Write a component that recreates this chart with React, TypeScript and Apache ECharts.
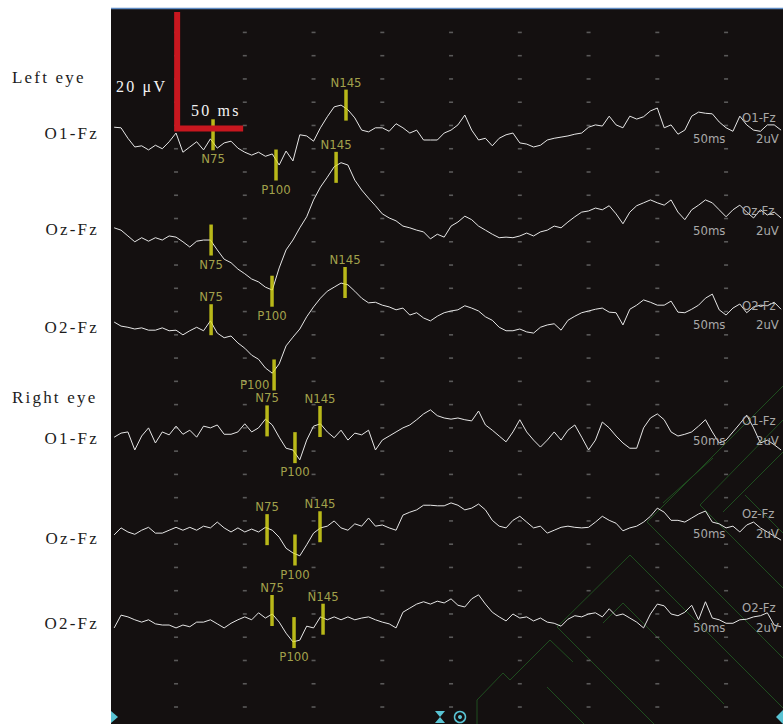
import React, { useEffect, useRef } from "react";
import * as echarts from "echarts";

// ---------- data (time in ms, amplitude in µV) ----------
const T_START = -45;
const T_STEP = 5;

const EYES = ["Left eye", "Right eye"];
const CHANNELS = ["O1-Fz", "Oz-Fz", "O2-Fz", "O1-Fz", "Oz-Fz", "O2-Fz"];

const LEFT_O1 = [
  2.7, 2.6, 0.8, -0.7, -0.5, -1.2, -0.4, -1.0, 0.2, 1.7,
  -1.6, -0.7, 0.2, -1.2, 0.7, -0.9, 0.0, 0.3, -0.9, -1.6,
  -2.1, -1.6, -2.3, -1.9, -3.8, -1.4, -3.1, 1.4, 1.2, 0.3,
  2.6, 4.5, 6.2, 6.5, 5.7, 4.3, 2.2, 1.9, 2.6, 2.6,
  2.0, 3.3, 2.6, 1.7, 2.2, 0.5, 0.5, 0.5, 1.7, 2.2,
  3.1, 4.8, 2.2, 0.5, 0.8, -0.5, 0.8, 1.4, 1.7, 0.0,
  -0.2, -0.7, -0.4, 0.5, 0.8, 1.0, 1.2, 1.5, 1.7, 2.7,
  3.1, 2.9, 4.6, 3.1, 2.6, 4.6, 4.1, 4.5, 5.5, 6.0,
  2.6, 3.1, 1.5, 2.2, 4.6, 5.3, 5.1, 5.0, 3.6, 2.6,
  2.0, 4.6, 3.1, 2.2, 2.0, 3.1, 3.1, 2.2,
];
const LEFT_OZ = [
  1.4, 1.0, 0.0, -1.0, -0.3, -0.9, -0.3, -0.7, 0.0, -0.2,
  -1.0, -1.9, -0.9, -0.7, -0.7, -2.4, -4.0, -4.6, -5.7, -6.5,
  -7.4, -7.9, -8.8, -9.3, -5.5, -2.4, -0.7, 1.4, 3.3, 6.2,
  8.4, 10.1, 11.9, 12.6, 12.2, 9.6, 7.9, 6.5, 5.2, 3.8,
  3.1, 2.6, 1.7, 1.4, 1.0, 0.7, -0.5, 0.3, -0.2, 1.7,
  2.4, 3.4, 2.8, 1.7, 1.0, 0.3, -0.3, -0.2, -0.3, 0.0,
  0.5, 0.0, 0.7, 1.0, 1.7, 1.4, 2.4, 3.3, 4.1, 4.3,
  4.8, 4.5, 5.2, 3.8, 2.1, 4.1, 5.2, 5.7, 6.2, 5.7,
  5.3, 6.2, 4.1, 2.8, 4.5, 5.3, 6.2, 5.7, 4.5, 3.3,
  4.5, 5.3, 4.1, 3.1, 4.5, 3.6, 4.1, 3.1,
];
const LEFT_O2 = [
  1.2, 0.5, 0.3, 0.0, 0.2, -0.2, -0.2, 0.2, -0.3, -0.2,
  -1.0, -0.3, 0.3, -0.3, 1.4, -0.7, -1.5, -1.2, -2.4, -3.3,
  -4.5, -5.2, -6.7, -7.6, -6.0, -2.9, -1.4, 0.0, 2.1, 3.8,
  5.3, 6.5, 7.2, 7.9, 7.6, 6.5, 5.3, 4.5, 4.6, 4.1,
  3.8, 3.3, 3.6, 2.4, 2.8, 1.9, 1.4, 2.2, 2.8, 3.1,
  3.3, 4.0, 3.6, 3.1, 2.1, 1.5, 0.3, -0.3, -0.3, 0.0,
  -0.5, -0.7, 0.3, 0.7, 0.9, -0.2, 1.5, 2.2, 2.8, 3.1,
  3.4, 3.6, 2.9, 2.8, 0.7, 3.4, 4.1, 5.0, 4.6, 4.1,
  4.1, 4.8, 2.9, 2.8, 3.4, 4.1, 5.3, 6.0, 3.3, 2.4,
  3.6, 4.3, 2.8, 3.8, 4.1, 4.0, 4.6, 3.4,
];
const RIGHT_O1 = [
  -0.6, 0.1, 0.3, -2.8, -0.4, 1.0, -1.6, 0.3, -0.2, 1.3,
  -0.1, 0.6, -0.6, 1.3, 1.0, 1.5, -0.1, -0.1, 0.3, 1.7,
  0.3, 1.0, 2.5, 1.5, -0.6, -2.5, -2.8, -4.5, -1.1, 1.3,
  1.7, 0.3, -0.7, 0.6, -1.1, 0.1, -0.2, 0.6, -2.8, -1.1,
  -0.4, 0.3, 1.0, 1.5, 2.4, 3.4, 4.1, 3.1, 2.7, 2.5,
  2.7, 2.4, 2.2, 3.9, 1.5, 0.6, -0.4, -1.4, 0.3, 2.4,
  0.3, -1.1, -2.3, -1.1, 0.3, -1.1, 0.6, 1.5, -0.6, -2.8,
  -1.1, 2.0, 1.0, -0.4, -1.6, -2.5, -2.5, 1.0, 2.7, 3.4,
  2.4, 0.3, -0.4, -0.1, 0.3, 1.3, 2.4, 0.3, -1.6, -1.1,
  0.3, 1.7, 3.2, 1.0, -1.6, -1.1, -1.9, -2.8,
];
const RIGHT_OZ = [
  -0.4, 0.8, 0.1, -0.3, 0.4, 0.9, -0.1, -0.1, 0.4, 0.9,
  0.4, 0.9, 0.4, 1.1, 0.8, 1.8, 0.8, 0.1, 0.8, 0.1,
  0.6, 0.1, 0.9, 0.4, -0.8, -2.7, -3.5, -4.0, -2.1, -0.1,
  0.8, 1.1, 2.0, 0.8, 0.4, 1.5, 1.1, 2.5, 1.1, 1.3,
  0.8, 0.4, 3.0, 3.5, 3.9, 4.7, 4.7, 4.6, 4.6, 5.1,
  4.7, 3.9, 4.2, 4.9, 3.9, 2.1, 1.1, 0.8, 2.1, 2.8,
  1.8, 0.8, 1.1, -0.1, 0.4, 0.9, 1.1, 0.9, 0.8, 0.9,
  1.8, 2.8, 2.1, 1.6, 0.3, 0.8, 1.1, 1.8, 2.8, 4.2,
  3.5, 2.1, 2.1, 1.8, 2.5, 3.2, 3.7, 1.8, 1.5, 0.8,
  1.1, 0.1, 1.3, 1.8, 0.8, 0.1, -0.6, -1.3,
];
const RIGHT_O2 = [
  -1.4, 0.8, 0.5, 0.0, -0.4, 0.0, -0.7, -0.9, -0.9, -1.4,
  -0.9, -1.2, -0.4, -0.4, 0.0, -0.7, -1.4, -0.6, 0.0, 0.5,
  0.0, 1.2, 0.3, 1.0, -0.4, -2.3, -3.8, -3.5, -1.1, -1.4,
  0.5, 0.0, 0.5, 0.0, 0.5, 0.0, 0.3, 0.5, 0.0, -0.4,
  -0.7, -1.4, 1.3, 2.0, 2.7, 3.1, 2.7, 3.2, 2.9, 3.6,
  2.5, 2.2, 3.6, 4.3, 2.7, 1.3, 0.5, -0.2, 1.0, 0.3,
  0.5, -0.2, 0.3, -0.4, -0.6, -1.1, 0.1, 0.7, 0.5, 1.0,
  1.2, 0.5, 1.9, 0.7, 1.0, 0.3, -0.4, -1.4, 1.0, 2.7,
  2.4, 1.0, 0.7, 1.3, 2.5, 0.0, 3.1, 0.3, 0.0, -0.6,
  -0.6, 0.0, 0.1, 0.5, 0.7, 1.2, -0.9, -1.2,
];
const TRACES = [LEFT_O1, LEFT_OZ, LEFT_O2, RIGHT_O1, RIGHT_OZ, RIGHT_O2];

// VEP peaks per trace: names, latencies (ms), amplitudes (µV)
const PEAK_NAMES = ["N75", "P100", "N145"];
const PEAK_LATENCY = [
  [26.9, 72.7, 123.6],
  [25.5, 69.8, 116.4],
  [25.5, 71.3, 122.9],
  [66.2, 86.5, 104.7],
  [66.2, 86.5, 104.7],
  [69.8, 85.8, 106.9],
];
const PEAK_AMPLITUDE = [
  [1.4, -3.8, 6.5],
  [-0.7, -9.5, 11.8],
  [1.6, -7.9, 8.0],
  [2.2, -2.4, 2.1],
  [0.5, -3.0, 1.0],
  [1.6, -2.2, 0.1],
];

// calibration bar
const SCALE_UV = 20;
const SCALE_MS = 50;
const SCALE_LABELS = ["20 μV", "50 ms"];
const DIV_LABELS = ["50ms", "2uV"];

// ---------- layout (not data) ----------
const OFFSETS = [97, 81, 65, 47, 30, 15]; // baseline of each trace on the stacked axis
// label side of each peak marker: t = above, b = below, l = left (lowered)
const LABEL_SIDE = [
  ["b", "b", "t"],
  ["b", "b", "t"],
  ["t", "l", "t"],
  ["t", "b", "t"],
  ["t", "b", "t"],
  ["t", "b", "t"],
];
const LEFT_LABEL_Y = [133, 229, 327, 438, 538, 623];
const EYE_LABEL_Y = [77, 397];
const RIGHT_LABEL_Y = [117, 210, 305, 420, 513, 607];
const RIGHT_DIV_Y = [138, 230, 324, 440, 533, 627];

const SERIF = '"Liberation Serif", "DejaVu Serif", serif';
const SANS = '"DejaVu Sans Condensed", "Liberation Sans", Arial, sans-serif';

function buildOption() {
  const dots: number[][] = [];
  for (let t = 0; t <= 400; t += 50) for (let v = 0; v <= 116; v += 4) dots.push([t, v]);

  const traceSeries = TRACES.map((vals, k) => ({
    type: "line",
    name: CHANNELS[k],
    data: vals.map((v, i) => [T_START + i * T_STEP, OFFSETS[k] + v]),
    showSymbol: false,
    symbol: "none",
    silent: true,
    z: 3,
    lineStyle: { color: "#e6e6e6", width: 1 },
  }));

  const markerData: any[] = [];
  PEAK_LATENCY.forEach((lats, k) => {
    lats.forEach((t, j) => {
      const side = LABEL_SIDE[k][j];
      const label =
        side === "t"
          ? { position: "top", distance: 1 }
          : side === "b"
          ? { position: "bottom", distance: 2 }
          : { position: "left", distance: 3, offset: [0, 10] };
      markerData.push({
        name: PEAK_NAMES[j],
        value: [t, OFFSETS[k] + PEAK_AMPLITUDE[k][j]],
        label,
      });
    });
  });

  const graphics: any[] = [];
  // top blue rule
  graphics.push({
    type: "line", z: 10,
    shape: { x1: 111, y1: 8.5, x2: 783, y2: 8.5 },
    style: { stroke: "#5f8cc4", lineWidth: 1.5 },
  });
  // green watermark lines
  const green = [
    [[647, 522], [783, 386]],
    [[647, 522], [783, 658]],
    [[700, 505], [783, 420]],
    [[700, 505], [783, 588]],
    [[557, 627], [630, 555], [783, 708]],
    [[557, 627], [654, 724]],
    [[603, 623], [623, 603], [724, 704]],
    [[477, 724], [477, 700], [503, 673], [510, 680], [550, 640], [573, 662]],
    [[547, 687], [584, 724]],
    [[663, 503], [713, 458]],
    [[723, 512], [783, 452]],
    [[745, 495], [783, 533]],
  ];
  green.forEach((pts) =>
    graphics.push({
      type: "polyline", z: 1, silent: true,
      shape: { points: pts },
      style: { stroke: "#1f4d1f", lineWidth: 1, fill: null },
    })
  );
  // bottom cyan icons
  const cyan = "#59c3d3";
  graphics.push({ type: "polygon", z: 10, shape: { points: [[111, 711], [118, 717], [111, 723]] }, style: { fill: cyan } });
  graphics.push({ type: "polygon", z: 10, shape: { points: [[435, 711], [445, 711], [440, 717], [445, 723], [435, 723], [440, 717]] }, style: { fill: cyan } });
  graphics.push({ type: "circle", z: 10, shape: { cx: 460, cy: 717, r: 5.5 }, style: { fill: null, stroke: cyan, lineWidth: 1.5 } });
  graphics.push({ type: "circle", z: 10, shape: { cx: 460, cy: 717, r: 2 }, style: { fill: cyan } });
  graphics.push({ type: "polygon", z: 10, shape: { points: [[783, 710], [776, 717], [783, 724]] }, style: { fill: cyan } });

  // left white-margin labels
  EYES.forEach((t, i) =>
    graphics.push({
      type: "text", z: 10, x: 12, y: EYE_LABEL_Y[i],
      style: { text: t, fill: "#1c1c1c", fontSize: 17, fontFamily: SERIF, textAlign: "left", textVerticalAlign: "middle" },
    })
  );
  CHANNELS.forEach((t, i) =>
    graphics.push({
      type: "text", z: 10, x: 99, y: LEFT_LABEL_Y[i],
      style: { text: t, fill: "#1c1c1c", fontSize: 17, fontFamily: SERIF, textAlign: "right", textVerticalAlign: "middle" },
    })
  );
  // calibration labels
  graphics.push({
    type: "text", z: 10, x: 116, y: 86,
    style: { text: SCALE_LABELS[0], fill: "#f4f4f4", fontSize: 16, fontFamily: SERIF, textAlign: "left", textVerticalAlign: "middle" },
  });
  graphics.push({
    type: "text", z: 10, x: 191, y: 110,
    style: { text: SCALE_LABELS[1], fill: "#f4f4f4", fontSize: 16, fontFamily: SERIF, textAlign: "left", textVerticalAlign: "middle" },
  });
  // right-hand channel tags
  CHANNELS.forEach((t, i) => {
    graphics.push({
      type: "text", z: 10, x: 742, y: RIGHT_LABEL_Y[i],
      style: { text: t, fill: "#a9a9a9", fontSize: 13, fontFamily: SANS, textAlign: "left", textVerticalAlign: "middle" },
    });
    graphics.push({
      type: "text", z: 10, x: 693, y: RIGHT_DIV_Y[i],
      style: { text: DIV_LABELS[0], fill: "#a9a9a9", fontSize: 13, fontFamily: SANS, textAlign: "left", textVerticalAlign: "middle" },
    });
    graphics.push({
      type: "text", z: 10, x: 756, y: RIGHT_DIV_Y[i],
      style: { text: DIV_LABELS[1], fill: "#a9a9a9", fontSize: 13, fontFamily: SANS, textAlign: "left", textVerticalAlign: "middle" },
    });
  });

  return {
    animation: false,
    backgroundColor: "#ffffff",
    grid: { left: 111, top: 8, right: 0, bottom: 0, show: true, backgroundColor: "#141010", borderWidth: 0 },
    xAxis: { type: "value", min: -47.3, max: 441.4, show: false },
    yAxis: { type: "value", min: -2.92, max: 120.2, show: false },
    graphic: { elements: graphics },
    series: [
      {
        type: "scatter", silent: true, z: 2,
        data: dots, symbol: "rect", symbolSize: [4, 1.6],
        itemStyle: { color: "#6c6c6c" },
      },
      ...traceSeries,
      {
        type: "scatter", silent: true, z: 4,
        data: markerData, symbol: "rect", symbolSize: [3.5, 31],
        itemStyle: { color: "#e2e21c" },
        label: {
          show: true, formatter: "{b}", color: "#c9c95c",
          fontSize: 13, fontFamily: SANS,
        },
      },
      {
        type: "line", silent: true, z: 5,
        data: [[0.8, 99.5 + SCALE_UV], [0.8, 99.5], [0.8 + SCALE_MS - 2, 99.5]],
        showSymbol: false, symbol: "none",
        lineStyle: { color: "#c8171f", width: 6, cap: "butt", join: "miter" },
      },
    ],
  };
}

export default function App() {
  const ref = useRef<HTMLDivElement>(null);
  useEffect(() => {
    const el = ref.current!;
    const chart = echarts.init(el, null, { renderer: "svg" });
    chart.setOption(buildOption() as any);
    const spread = () => {
      el.querySelectorAll("text").forEach((t) => {
        const s = (t.getAttribute("style") || "") + (t.getAttribute("font-family") || "");
        if (s.includes("Liberation Serif")) t.setAttribute("letter-spacing", "2.2");
      });
    };
    spread();
    chart.on("finished", spread);
    const id = requestAnimationFrame(spread);
    return () => {
      cancelAnimationFrame(id);
      chart.dispose();
    };
  }, []);
  return (
    <div
      ref={ref}
      style={{ position: "fixed", left: 0, top: 0, width: 783, height: 724, background: "#fff" }}
    />
  );
}
